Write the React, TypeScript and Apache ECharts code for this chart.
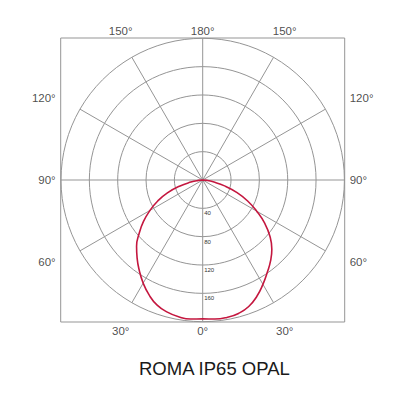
import React, { useEffect, useRef } from 'react';
import * as echarts from 'echarts';

// Angles (degrees from nadir) at which the intensity curve was read
const curveAngles = [0, 5, 10, 15, 20, 25, 30, 35, 40, 45, 50, 55, 60, 65, 70, 75, 80, 85, 90];
// Intensity on the left half (angle values 0..90)
const leftIntensity = [196, 197, 196, 193, 188, 179, 168, 156, 144, 132, 117, 102, 86, 70, 53, 34, 17, 6, 0];
// Intensity on the right half (angle values 360-0..360-90)
const rightIntensity = [196, 197, 197, 195, 190, 181, 170, 159, 149, 138, 124, 107, 88, 70, 51, 32, 15, 6, 0];

const radiusMax = 200;
const radiusInterval = 40;
const radiusTickLabels = ['40', '80', '120', '160'];

const spokeAngles = [0, 30, 60, 90, 120, 150, 180, 210, 240, 270, 300, 330];
const spokeLabels = ['0°', '30°', '60°', '90°', '120°', '150°', '180°', '150°', '120°', '90°', '60°', '30°'];

const titleText = 'ROMA IP65 OPAL';

const CX = 202.7;
const CY = 180;
const RADIUS = 141.7;
const FRAME_HALF = 142;
const GRID_COLOR = '#959595';
const FONT = '"Liberation Sans", Arial, sans-serif';

export default function App() {
  const ref = useRef<HTMLDivElement>(null);

  useEffect(() => {
    if (!ref.current) return;
    const chart = echarts.init(ref.current, undefined, { renderer: 'svg' });

    const edgeUnits = (FRAME_HALF / RADIUS) * radiusMax;
    const rEdge = (a: number) => {
      const rad = (a * Math.PI) / 180;
      return edgeUnits / Math.max(Math.abs(Math.cos(rad)), Math.abs(Math.sin(rad)));
    };

    const curve: number[][] = [];
    for (let i = curveAngles.length - 1; i >= 1; i--) {
      curve.push([rightIntensity[i], 360 - curveAngles[i]]);
    }
    for (let i = 0; i < curveAngles.length; i++) {
      curve.push([leftIntensity[i], curveAngles[i]]);
    }

    const spokeSeries = spokeAngles.map((a) => ({
      type: 'line',
      coordinateSystem: 'polar',
      data: [
        [0, a],
        [rEdge(a), a],
      ],
      symbol: 'none',
      clip: false,
      silent: true,
      z: 1,
      lineStyle: { color: GRID_COLOR, width: 1 },
    }));

    const side = (a: number) => {
      if (a <= 30 || a >= 330) return 'bottom';
      if (a < 150) return 'left';
      if (a <= 210) return 'top';
      return 'right';
    };
    const dist = (a: number) => {
      const s = side(a);
      if (s === 'top') return 1;
      if (s === 'bottom') return 3;
      return 5;
    };

    const labelSeries = {
      type: 'scatter',
      coordinateSystem: 'polar',
      symbolSize: 0,
      clip: false,
      silent: true,
      data: spokeAngles.map((a, i) => ({
        value: [rEdge(a), a],
        label: {
          show: true,
          formatter: spokeLabels[i],
          position: side(a),
          distance: dist(a),
          fontSize: 11.5,
          fontFamily: FONT,
          color: '#1a1a1a',
        },
      })),
    };

    chart.setOption({
      animation: false,
      backgroundColor: '#ffffff',
      title: {
        text: titleText,
        left: 134,
        top: 354,
        textStyle: { fontSize: 18.5, fontWeight: 'normal', fontFamily: FONT, color: '#1a1a1a' },
      },
      polar: { center: [CX, CY], radius: RADIUS },
      angleAxis: {
        type: 'value',
        min: 0,
        max: 360,
        interval: 30,
        startAngle: -90,
        clockwise: true,
        axisLine: { show: false },
        axisTick: { show: false },
        axisLabel: { show: false },
        splitLine: { show: false },
      },
      radiusAxis: {
        type: 'value',
        min: 0,
        max: radiusMax,
        interval: radiusInterval,
        axisLine: { show: false },
        axisTick: { show: false },
        splitLine: { show: true, lineStyle: { color: GRID_COLOR, width: 1 } },
        axisLabel: {
          show: true,
          fontSize: 6,
          fontFamily: FONT,
          color: '#333',
          margin: 1.5,
          align: 'left',
          verticalAlign: 'top',
          padding: [2, 0, 0, 0],
          formatter: (v: number) => {
            const s = String(v);
            return radiusTickLabels.indexOf(s) >= 0 ? s : '';
          },
        },
      },
      graphic: [
        {
          type: 'rect',
          z: 0,
          silent: true,
          shape: { x: CX - FRAME_HALF, y: CY - FRAME_HALF, width: FRAME_HALF * 2, height: FRAME_HALF * 2 },
          style: { fill: 'none', stroke: GRID_COLOR, lineWidth: 1 },
        },
      ],
      series: [
        ...spokeSeries,
        labelSeries,
        {
          type: 'line',
          coordinateSystem: 'polar',
          data: curve,
          smooth: true,
          symbol: 'none',
          clip: false,
          z: 5,
          lineStyle: { color: '#c4173f', width: 1.6 },
        },
      ],
    });

    return () => chart.dispose();
  }, []);

  return (
    <div
      ref={ref}
      style={{ position: 'fixed', left: 0, top: 0, width: 400, height: 400, background: '#fff' }}
    />
  );
}
